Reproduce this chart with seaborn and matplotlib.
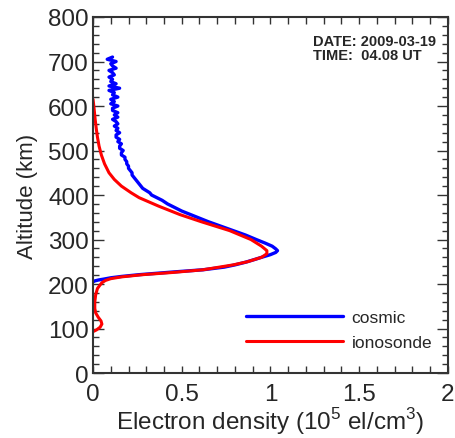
import numpy as np
import pandas as pd
import matplotlib
matplotlib.use("Agg")
import matplotlib.pyplot as plt
from matplotlib.ticker import MultipleLocator
import seaborn as sns

# --- data ---
cosmic_alt = [710, 705, 700, 695, 690, 685, 680, 675, 670, 665, 660, 655, 650, 645, 640,
              635, 630, 625, 620, 615, 610, 605, 600, 595, 590, 585, 580, 575, 570, 565,
              560, 555, 550, 545, 540, 535, 530, 525, 520, 515, 510, 505, 500, 495, 490,
              485, 480, 475, 470, 465, 460, 455, 450, 445, 440, 435, 430, 425, 420, 415,
              410, 405, 400, 394, 388, 380, 372, 364, 356, 348, 340, 330, 320, 310, 300,
              292, 285, 279, 275, 271, 266, 260, 255, 249, 243, 238, 232, 227, 221, 217,
              214, 211, 209, 207, 205]
cosmic_ne = [0.11, 0.08, 0.13, 0.10, 0.11, 0.13, 0.09, 0.11, 0.12, 0.09, 0.11, 0.10, 0.13, 0.09, 0.15,
             0.09, 0.12, 0.11, 0.14, 0.10, 0.12, 0.10, 0.14, 0.11, 0.11, 0.14, 0.12, 0.14, 0.11, 0.13,
             0.14, 0.12, 0.14, 0.13, 0.15, 0.13, 0.13, 0.15, 0.14, 0.16, 0.15, 0.15, 0.17, 0.16, 0.16,
             0.18, 0.18, 0.19, 0.19, 0.20, 0.20, 0.21, 0.22, 0.22, 0.23, 0.24, 0.25, 0.26, 0.27, 0.28,
             0.30, 0.32, 0.33, 0.36, 0.39, 0.42, 0.46, 0.50, 0.55, 0.60, 0.65, 0.72, 0.79, 0.86, 0.92,
             0.97, 1.01, 1.03, 1.04, 1.03, 1.00, 0.95, 0.91, 0.86, 0.80, 0.74, 0.62, 0.45, 0.26, 0.16,
             0.10, 0.06, 0.03, 0.01, 0.0]

iono_alt = [615, 605, 590, 570, 550, 530, 510, 490, 470, 450, 435, 420, 405, 394, 375,
            356, 340, 320, 300, 285, 275, 268, 260, 250, 243, 232, 226, 221, 216, 212,
            208, 203, 198, 190, 176, 160, 145, 135, 125, 117, 110, 103, 97, 93]
iono_ne = [0.0, 0.003, 0.007, 0.012, 0.018, 0.025, 0.034, 0.047, 0.065, 0.09, 0.12, 0.16, 0.215, 0.26, 0.37,
           0.49, 0.61, 0.77, 0.89, 0.95, 0.98, 0.98, 0.95, 0.87, 0.79, 0.62, 0.45, 0.28, 0.16, 0.10,
           0.07, 0.05, 0.04, 0.025, 0.015, 0.01, 0.01, 0.015, 0.03, 0.045, 0.05, 0.04, 0.02, 0.0]

x_ticks = [0, 0.5, 1, 1.5, 2]
x_labels = ["0", "0.5", "1", "1.5", "2"]
y_ticks = [0, 100, 200, 300, 400, 500, 600, 700, 800]

sns.set_style("ticks")
plt.rcParams['font.family'] = ['Liberation Sans', 'DejaVu Sans']
plt.rcParams['mathtext.fontset'] = 'custom'
plt.rcParams['mathtext.rm'] = 'Liberation Sans'

df = pd.concat([
    pd.DataFrame({"ne": cosmic_ne, "alt": cosmic_alt, "src": "cosmic"}),
    pd.DataFrame({"ne": iono_ne, "alt": iono_alt, "src": "ionosonde"}),
], ignore_index=True)

fig = plt.figure(figsize=(4.56, 4.39), dpi=100)
ax = fig.add_axes([0.204, 0.148, 0.778, 0.811])

sns.lineplot(data=df[df.src == "cosmic"], x="ne", y="alt", sort=False, orient="y",
             color="#0000ff", lw=2.4, ax=ax, label="cosmic", estimator=None)
sns.lineplot(data=df[df.src == "ionosonde"], x="ne", y="alt", sort=False, orient="y",
             color="#ff0000", lw=2.2, ax=ax, label="ionosonde", estimator=None)

ax.set_xlim(0, 2)
ax.set_ylim(0, 800)
ax.set_xticks(x_ticks)
ax.set_xticklabels(x_labels)
ax.set_yticks(y_ticks)
ax.xaxis.set_minor_locator(MultipleLocator(0.1))
ax.yaxis.set_minor_locator(MultipleLocator(20))
ax.tick_params(axis="both", which="both", direction="in", top=True, right=True,
               color="#333333", width=1.0, labelsize=17.5)
ax.tick_params(axis="y", which="major", length=8, pad=3)
ax.tick_params(axis="y", which="minor", length=4)
ax.tick_params(axis="x", which="both", length=5, pad=7)
for s in ax.spines.values():
    s.set_color("#333333")
    s.set_linewidth(1.5)

ax.set_xlabel("Electron density (10$^{\\mathregular{5}}$ el/cm$^{\\mathregular{3}}$)",
              fontsize=17.5, labelpad=0)
ax.set_ylabel("Altitude (km)", fontsize=16, labelpad=7)

ax.text(0.62, 0.952, "DATE: 2009-03-19\nTIME:  04.08 UT", transform=ax.transAxes,
        fontsize=10.5, fontweight="bold", va="top", ha="left", linespacing=0.95)

leg = ax.legend(loc="lower right", frameon=False, fontsize=12.5, handlelength=5.6,
                handletextpad=0.5, labelspacing=0.6, bbox_to_anchor=(1.0, 0.02))

fig.savefig("out.png", dpi=100)
